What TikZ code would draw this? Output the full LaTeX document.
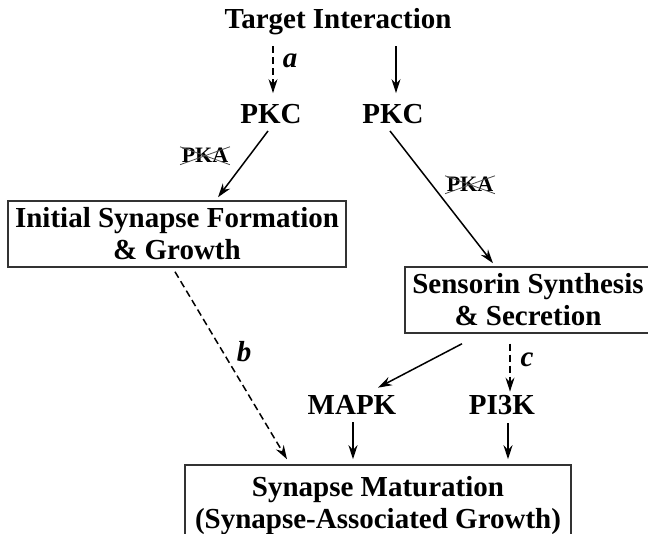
\documentclass[tikz,border=0pt]{standalone}
\usepackage{fontspec}
\setmainfont{Liberation Serif}
\usetikzlibrary{arrows.meta,calc}
\begin{document}
\begin{tikzpicture}[x=1pt,y=-1pt,
  txt/.style={font=\fontsize{29}{32}\selectfont\bfseries, inner sep=3pt, align=center},
  box/.style={txt, draw=black!80, line width=1.5pt, inner sep=0pt},
  tag/.style={font=\fontsize{29}{32}\selectfont\bfseries\itshape, inner sep=0pt, anchor=base},
  blocked/.style={font=\fontsize{22}{24}\selectfont\bfseries, inner sep=1.5pt, anchor=base},
  xline/.style={draw=black!70, line width=0.8pt},
  arr/.style={-{Stealth[length=14pt,width=9pt]}, line width=1.5pt},
  dsh/.style={dash pattern=on 7pt off 4pt}]
\useasboundingbox (0,0) rectangle (648,534);
\clip (0,0) rectangle (648,534);
\fill[white] (0,0) rectangle (648,534);

% signalling stages
\node[txt, anchor=base] (target) at (338,28.5) {Target Interaction};
\node[txt, anchor=base] (pkcL) at (271,123.5) {PKC};
\node[txt, anchor=base] (pkcR) at (393,123.5) {PKC};
\node[box, minimum width=338pt, minimum height=66pt] (initial) at (177,234)
  {Initial Synapse Formation\\\& Growth};
\node[box, minimum width=246pt, minimum height=66pt] (sensorin) at (528,300)
  {Sensorin Synthesis\\\& Secretion};
\node[txt, anchor=base] (mapk) at (352,415) {MAPK};
\node[txt, anchor=base] (pi3k) at (502,414) {PI3K};
\node[box, minimum width=386pt, minimum height=82pt] (matur) at (378,506)
  {Synapse Maturation\\(Synapse-Associated Growth)};

% connectors
\draw[arr,dsh] ($(target.south)+(-65,8)$) -- ($(pkcL.north)+(2,-8)$);
\draw[arr] ($(target.south)+(58,8)$) -- ($(pkcR.north)+(3,-8)$);
\draw[arr] ($(pkcL.south)+(-3,4)$) -- ($(initial.north)+(41,-3)$);
\draw[arr] ($(pkcR.south)+(-3,4)$) -- ($(sensorin.north)+(-35,-3)$);
\draw[arr,dsh] ($(initial.south)+(-2,4)$) -- ($(matur.north)+(-91,-5)$);
\draw[arr] ($(sensorin.south)+(-66,10)$) -- ($(mapk.north)+(26,-5)$);
\draw[arr,dsh] ($(sensorin.south)+(-18,10)$) -- ($(pi3k.north)+(8,0)$);
\draw[arr] ($(mapk.south)+(1,4)$) -- ($(matur.north)+(-25,-5)$);
\draw[arr] ($(pi3k.south)+(6,6)$) -- ($(matur.north)+(130,-5)$);

% pathway labels
\node[tag] (la) at (290,68) {a};
\node[tag] (lb) at (244,362) {b};
\node[tag] (lc) at (527,367) {c};

% PKA, not required (struck out)
\node[blocked] (pkaL) at (205,163) {PKA};
\node[blocked] (pkaR) at (470,192) {PKA};
\foreach \n in {pkaL,pkaR}
  \draw[xline] (\n.north west) -- (\n.south east) (\n.south west) -- (\n.north east);
\end{tikzpicture}
\end{document}
